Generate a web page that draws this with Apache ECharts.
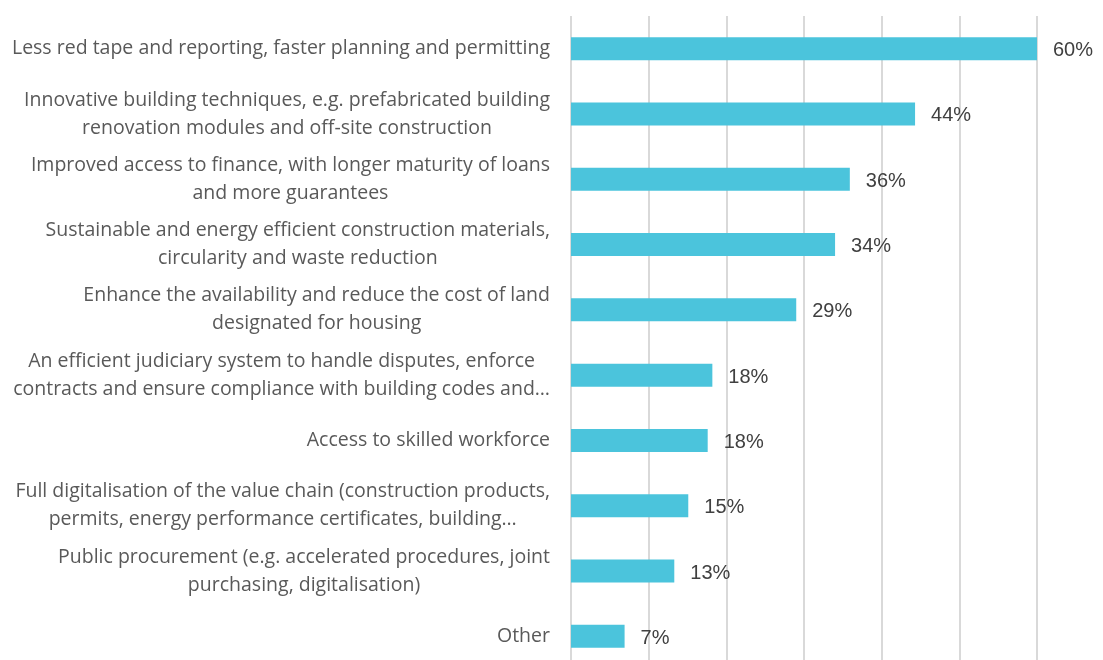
<!DOCTYPE html>
<html><head><meta charset="utf-8">
<script src="https://cdn.jsdelivr.net/npm/echarts@6/dist/echarts.min.js"></script>
<style>html,body{margin:0;padding:0;background:#fff}#c{width:1103px;height:660px}</style>
</head><body><div id="c"></div>
<script>
const categories = [
  "Less red tape and reporting, faster planning and permitting",
  "Innovative building techniques, e.g. prefabricated building\nrenovation modules and off-site construction",
  "Improved access to finance, with longer maturity of loans\nand more guarantees",
  "Sustainable and energy efficient construction materials,\ncircularity and waste reduction",
  "Enhance the availability and reduce the cost of land\ndesignated for housing",
  "An efficient judiciary system to handle disputes, enforce\ncontracts and ensure compliance with building codes and…",
  "Access to skilled workforce",
  "Full digitalisation of the value chain (construction products,\npermits, energy performance certificates, building…",
  "Public procurement (e.g. accelerated procedures, joint\npurchasing, digitalisation)",
  "Other"
];
const values = [60, 44.3, 35.9, 34, 29, 18.2, 17.6, 15.1, 13.3, 6.9];
const axisMin = 0, axisMax = 60, axisStep = 10;

const chart = echarts.init(document.getElementById('c'), null, {renderer: 'canvas'});
chart.setOption({
  animation: false,
  backgroundColor: '#ffffff',
  grid: {left: 571, width: 466, top: 16, height: 653, containLabel: false, outerBoundsMode: 'none'},
  xAxis: {
    type: 'value', min: axisMin, max: axisMax, interval: axisStep,
    axisLine: {show: false}, axisTick: {show: false}, axisLabel: {show: false},
    splitLine: {show: true, showMinLine: true, showMaxLine: true, lineStyle: {color: '#d9d9d9', width: 2}}
  },
  yAxis: {
    type: 'category', data: categories, inverse: true,
    axisLine: {show: false}, axisTick: {show: false}, splitLine: {show: false},
    axisLabel: {
      margin: 21, align: 'right',
      formatter: v => v.split('\n').map(s => '{c|' + s + '}').join('\n'),
      rich: {c: {align: 'center', fontSize: 19.5, fontFamily: 'Open Sans', color: '#595959', lineHeight: 28}}
    }
  },
  series: [{
    type: 'bar', data: values, barWidth: 23,
    itemStyle: {color: '#4bc4dc'},
    label: {
      show: true, position: 'right', distance: 16, offset: [0, 2],
      formatter: p => Math.round(p.value) + '%',
      color: '#404040', fontSize: 20, fontFamily: 'Liberation Sans'
    }
  }]
});
</script></body></html>
